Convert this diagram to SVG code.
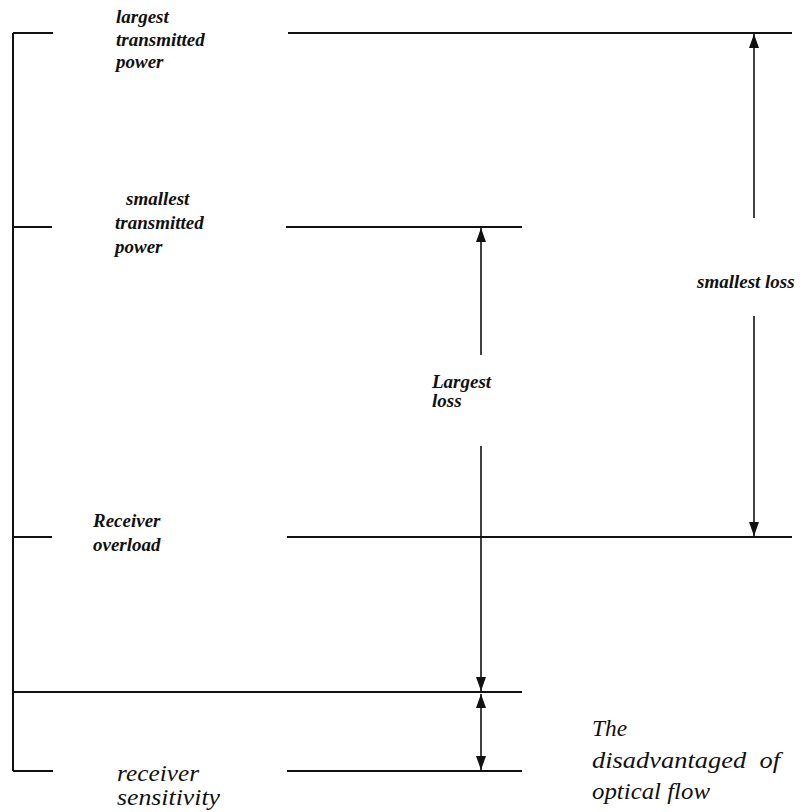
<svg xmlns="http://www.w3.org/2000/svg" width="811" height="812" viewBox="0 0 811 812">
<style>
.ln{stroke:#111;stroke-width:2;fill:none}
.ar{stroke:#111;stroke-width:1.6;fill:none}
.lb{font-family:"Liberation Serif","Times New Roman",serif;font-style:italic;font-weight:bold;font-size:19px;fill:#111}
.lt{font-family:"Liberation Serif","Times New Roman",serif;font-style:italic;font-size:24px;fill:#111}
</style>
<defs>
<marker id="ah" viewBox="0 0 14 10" refX="14" refY="5" markerWidth="14" markerHeight="10" markerUnits="userSpaceOnUse" orient="auto-start-reverse">
<path d="M0,0 L14,5 L0,10 z" fill="#111"/>
</marker>
</defs>
<rect width="811" height="812" fill="#fff"/>
<g id="connectors">
<path class="ln" d="M13,33 V771"/>
<path class="ln" d="M13,33 H53 M288,33 H792"/>
<path class="ln" d="M13,227 H52 M286,227 H522"/>
<path class="ln" d="M13,537 H52 M287,537 H792"/>
<path class="ln" d="M13,692 H522"/>
<path class="ln" d="M13,771 H53 M287,771 H522"/>
<path class="ar" d="M754,218 V34" marker-end="url(#ah)"/>
<path class="ar" d="M754,316 V536" marker-end="url(#ah)"/>
<path class="ar" d="M481,355 V228" marker-end="url(#ah)"/>
<path class="ar" d="M481,446 V691" marker-end="url(#ah)"/>
<path class="ar" d="M481,694 V770" marker-start="url(#ah)" marker-end="url(#ah)"/>
</g>
<g id="largest-transmitted-power">
<text class="lb" x="116" y="23">largest</text>
<text class="lb" x="116" y="46">transmitted</text>
<text class="lb" x="116" y="68">power</text>
</g>
<g id="smallest-transmitted-power">
<text class="lb" x="126" y="205">smallest</text>
<text class="lb" x="115" y="229">transmitted</text>
<text class="lb" x="115" y="253">power</text>
</g>
<g id="receiver-overload">
<text class="lb" x="93" y="527">Receiver</text>
<text class="lb" x="93" y="551">overload</text>
</g>
<g id="largest-loss">
<text class="lb" x="432" y="388">Largest</text>
<text class="lb" x="432" y="407">loss</text>
</g>
<g id="smallest-loss">
<text class="lb" x="697" y="288">smallest loss</text>
</g>
<g id="receiver-sensitivity">
<text class="lt" x="117" y="781" textLength="82" lengthAdjust="spacingAndGlyphs">receiver</text>
<text class="lt" x="117" y="805" textLength="103" lengthAdjust="spacingAndGlyphs">sensitivity</text>
</g>
<g id="note">
<text class="lt" x="592" y="736" textLength="35" lengthAdjust="spacingAndGlyphs">The</text>
<text class="lt" x="592" y="768" textLength="188" lengthAdjust="spacingAndGlyphs" xml:space="preserve">disadvantaged  of</text>
<text class="lt" x="592" y="799" textLength="118" lengthAdjust="spacingAndGlyphs">optical flow</text>
</g>
</svg>
